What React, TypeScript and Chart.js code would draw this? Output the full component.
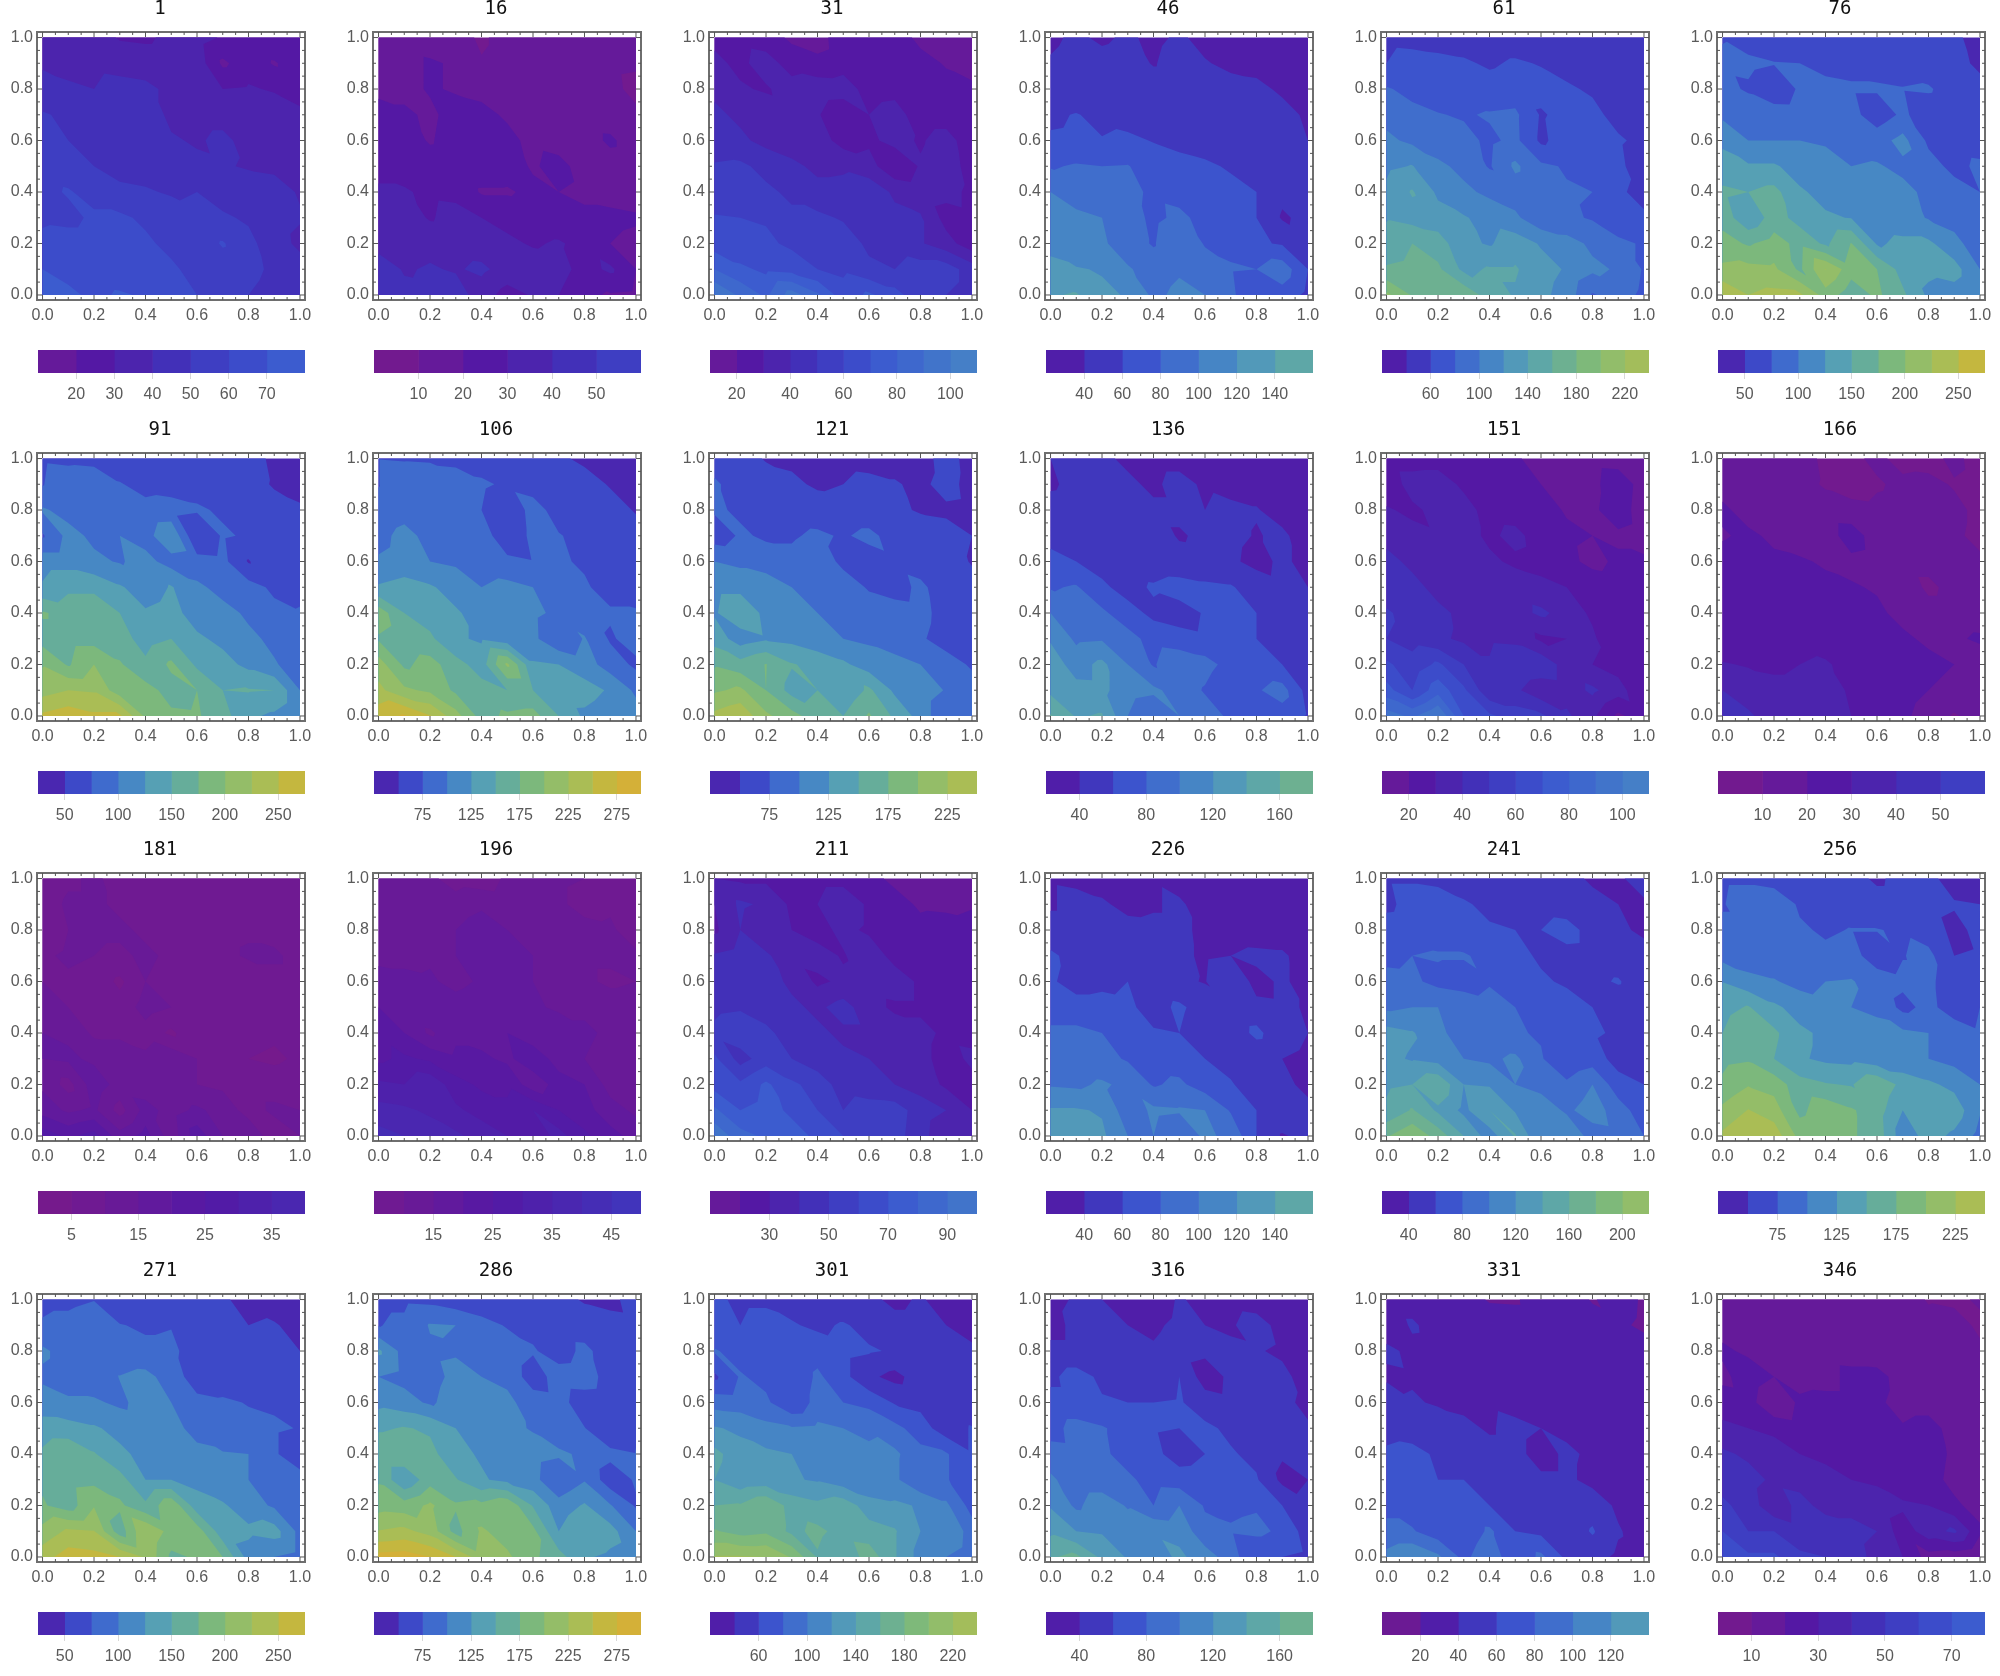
import React, { useEffect, useRef } from "react";
import { Chart, registerables } from "chart.js";

Chart.register(...registerables);

const panelTitles = [1, 16, 31, 46, 61, 76, 91, 106, 121, 136, 151, 166, 181, 196, 211, 226, 241, 256, 271, 286, 301, 316, 331, 346];
const rangeLow = [10, 0, 10, 20, 20, 25, 25, 25, 25, 20, 10, 0, 0, 5, 10, 20, 20, 25, 25, 25, 20, 20, 0, 0];
const rangeHigh = [80, 60, 110, 160, 240, 275, 275, 300, 250, 180, 110, 60, 40, 50, 100, 160, 220, 250, 275, 300, 240, 180, 140, 80];
const rangeStep = [10, 10, 10, 20, 20, 25, 25, 25, 25, 20, 10, 10, 5, 5, 10, 20, 20, 25, 25, 25, 20, 20, 20, 10];
const barTicks = [
  [20, 30, 40, 50, 60, 70], [10, 20, 30, 40, 50], [20, 40, 60, 80, 100], [40, 60, 80, 100, 120, 140], [60, 100, 140, 180, 220], [50, 100, 150, 200, 250],
  [50, 100, 150, 200, 250], [75, 125, 175, 225, 275], [75, 125, 175, 225], [40, 80, 120, 160], [20, 40, 60, 80, 100], [10, 20, 30, 40, 50],
  [5, 15, 25, 35], [15, 25, 35, 45], [30, 50, 70, 90], [40, 60, 80, 100, 120, 140], [40, 80, 120, 160, 200], [75, 125, 175, 225],
  [50, 100, 150, 200, 250], [75, 125, 175, 225, 275], [60, 100, 140, 180, 220], [40, 80, 120, 160], [20, 40, 60, 80, 100, 120], [10, 30, 50, 70],
];

// Each grid: 11 rows from y = 1.0 down to y = 0.0, 11 values from x = 0.0 to x = 1.0
const grid1 = [
  38,36,35,29,28,33,34,29,27,28,27,
  39,38,38,37,36,36,36,18,26,19,26,
  43,41,40,43,42,38,34,30,31,29,26,
  51,48,47,46,45,38,37,37,33,36,32,
  53,50,47,46,45,41,39,42,37,36,34,
  56,54,50,47,46,45,42,41,39,38,35,
  57,61,56,52,51,49,50,47,46,44,39,
  58,57,62,62,58,55,52,51,49,45,41,
  63,65,65,66,62,57,54,61,52,46,37,
  70,67,66,65,64,62,56,55,53,48,46,
  75,72,68,71,69,65,60,56,50,46,44,
];
const grid16 = [
  18,17,16,15,8,15,15,15,15,15,15,
  17,17,21,19,11,15,12,14,14,13,12,
  17,17,21,19,18,15,14,14,15,14,6,
  25,22,18,24,22,19,16,15,15,14,13,
  26,25,19,25,24,22,18,16,15,22,14,
  28,26,25,26,25,24,19,23,16,15,14,
  31,31,28,27,19,19,22,20,18,17,16,
  34,35,29,34,30,27,25,24,22,22,21,
  36,35,37,36,35,32,29,31,27,20,18,
  46,39,41,39,42,36,35,34,26,32,20,
  50,43,42,45,35,26,31,30,22,19,18,
];
const grid31 = [
  28,27,25,18,15,27,26,26,17,14,13,
  32,28,34,26,23,26,26,25,24,19,16,
  38,31,29,34,36,35,26,27,24,24,22,
  42,38,35,33,31,22,30,34,25,25,24,
  44,42,37,33,35,26,28,33,29,34,24,
  51,52,47,43,37,38,34,22,31,35,26,
  53,52,52,48,44,44,47,38,35,33,28,
  61,60,59,52,52,49,43,43,41,26,28,
  65,63,62,58,58,55,48,45,41,34,24,
  80,72,68,66,60,58,52,50,55,55,45,
  100,88,78,95,82,64,72,64,53,50,45,
];
const grid46 = [
  38,42,38,42,37,42,36,34,33,33,32,
  41,44,44,46,39,46,41,37,36,37,33,
  45,47,46,48,47,47,48,45,43,38,34,
  57,61,55,52,50,49,48,47,46,44,38,
  62,63,61,64,59,55,52,50,47,45,40,
  78,82,80,81,70,66,63,58,50,45,43,
  100,92,90,86,76,72,68,65,60,44,42,
  112,104,100,90,75,85,73,65,60,38,44,
  115,102,103,90,78,100,78,75,63,58,45,
  125,122,118,102,92,98,92,82,80,92,60,
  138,142,125,118,96,104,100,85,60,72,55,
];
const grid61 = [
  56,55,54,53,52,52,52,50,48,40,42,
  60,66,64,62,58,62,59,55,52,48,46,
  82,74,70,68,66,68,66,62,58,54,50,
  94,86,81,78,82,84,58,66,64,55,48,
  104,96,90,86,76,85,56,70,60,62,56,
  116,121,104,95,78,104,84,78,70,64,50,
  124,142,116,104,96,90,84,82,80,62,56,
  138,132,128,122,112,104,85,84,78,68,62,
  150,160,150,125,118,131,118,108,96,84,78,
  162,165,164,135,142,142,128,118,104,98,78,
  205,178,168,176,150,138,125,112,78,90,75,
];
const grid76 = [
  74,65,60,62,60,60,58,50,58,55,40,
  78,80,76,75,70,68,66,65,60,58,45,
  82,72,60,78,80,78,78,76,78,62,58,
  95,90,86,85,85,84,60,80,60,57,55,
  120,100,100,100,97,92,90,108,70,65,62,
  135,128,128,115,110,100,102,95,85,68,80,
  155,150,158,128,118,115,112,106,95,85,75,
  165,130,162,140,128,124,115,112,98,90,82,
  185,172,185,168,145,176,122,130,130,108,85,
  205,208,205,170,226,185,175,140,130,135,100,
  248,225,232,230,190,160,180,155,120,115,100,
];
const grid91 = [
  72,70,68,66,62,62,50,60,60,45,40,
  74,88,90,76,70,68,66,62,58,48,45,
  103,92,88,85,80,82,78,72,64,58,52,
  72,108,95,100,90,122,50,78,72,58,55,
  115,115,105,98,108,90,85,82,48,74,60,
  128,145,145,128,112,127,105,92,85,70,72,
  178,165,165,150,128,135,112,108,96,82,76,
  165,165,165,160,140,150,130,118,105,95,82,
  198,172,200,178,155,180,145,135,118,102,90,
  215,225,222,185,185,165,175,150,152,150,100,
  255,265,255,255,195,180,178,160,130,120,100,
];
const grid106 = [
  74,72,70,68,66,62,58,54,45,42,38,
  74,98,100,88,78,72,68,64,60,48,45,
  82,90,95,90,75,60,82,68,70,60,48,
  92,108,92,88,86,60,80,76,70,62,60,
  103,110,100,96,85,80,76,78,72,66,60,
  128,135,128,115,100,108,100,85,78,66,62,
  190,150,138,128,115,110,105,95,85,78,78,
  172,160,155,128,122,108,106,78,102,72,85,
  212,170,185,160,138,205,128,125,112,88,70,
  232,205,195,170,160,150,150,136,135,122,95,
  265,278,252,210,165,180,185,150,120,110,112,
];
const grid121 = [
  72,60,48,46,44,44,42,42,40,60,40,
  76,72,62,54,47,50,56,52,45,58,42,
  78,72,68,62,60,58,58,54,48,46,44,
  62,78,72,72,80,72,82,64,62,58,50,
  100,94,85,82,92,68,62,70,64,62,48,
  118,118,118,100,95,90,72,66,80,62,60,
  122,145,118,110,100,96,90,85,82,66,60,
  140,112,122,118,108,100,96,88,78,65,66,
  172,160,176,152,142,130,112,108,100,85,72,
  196,205,175,140,150,130,155,120,115,98,85,
  232,245,205,185,160,150,178,145,115,78,90,
];
const grid136 = [
  40,44,42,38,36,36,34,34,32,32,30,
  37,46,46,42,38,44,38,34,34,32,30,
  48,50,48,47,42,42,40,44,41,34,31,
  58,52,48,46,45,39,42,44,39,43,32,
  62,60,52,48,46,44,43,43,35,43,35,
  78,82,64,52,63,70,65,62,50,44,40,
  100,90,84,68,55,50,62,66,60,48,42,
  118,96,98,88,72,68,64,62,60,44,42,
  130,112,125,100,78,96,88,72,66,60,48,
  135,126,125,108,104,92,78,60,78,88,52,
  162,138,142,100,82,100,90,76,62,72,58,
];
const grid151 = [
  26,26,26,26,25,21,17,16,16,15,14,
  24,34,35,28,26,24,20,18,17,27,15,
  31,28,33,34,26,25,24,19,18,26,14,
  36,33,31,34,28,33,25,22,20,18,15,
  44,37,34,34,32,28,26,23,17,22,22,
  41,44,36,38,39,36,33,30,27,25,23,
  52,44,43,37,37,36,42,36,28,25,21,
  50,46,42,38,38,37,28,30,32,20,22,
  62,54,62,50,41,50,48,35,30,26,20,
  74,60,76,62,42,42,33,35,42,34,22,
  95,88,100,70,62,55,52,42,32,18,25,
];
const grid166 = [
  16,15,15,14,8,8,12,7,6,13,5,
  16,15,15,13,9,6,9,12,13,9,6,
  22,16,15,14,14,13,12,13,13,13,7,
  19,22,18,16,14,26,14,13,13,12,7,
  24,26,22,21,19,17,15,13,13,13,12,
  27,26,25,24,22,21,19,16,8,13,12,
  30,29,26,24,22,24,22,17,14,14,13,
  22,26,30,28,26,25,24,22,18,18,22,
  31,29,28,30,31,27,25,23,23,20,12,
  40,37,33,33,36,28,25,24,20,17,13,
  46,41,37,33,32,30,26,22,16,9,14,
];
const grid181 = [
  6,9,11,8,6,7,8,7,6,6,6,
  7,11,11,9,8,8,7,7,7,7,7,
  6,10,11,11,9,8,8,8,9,8,7,
  9,11,10,9,11,9,6,8,11,11,8,
  10,9,8,4,10,8,5,5,5,8,8,
  11,10,8,7,12,10,7,5,6,7,5,
  15,14,9,9,8,4,9,6,7,6,5,
  15,16,14,13,11,14,10,8,5,4,6,
  14,8,18,13,12,11,10,9,8,8,9,
  18,14,16,8,17,13,16,13,8,11,10,
  28,24,27,17,22,12,23,15,14,7,10,
];
const grid196 = [
  12,11,11,8,7,11,11,11,10,7,6,
  12,12,12,12,14,13,12,11,8,9,8,
  14,12,13,15,18,15,14,13,12,11,7,
  13,13,14,15,16,15,15,12,11,11,11,
  18,17,16,13,16,16,15,13,11,9,10,
  20,19,20,18,20,17,16,14,14,13,13,
  24,20,14,19,18,20,17,19,16,14,13,
  24,26,24,21,21,19,23,18,15,13,13,
  31,30,34,27,24,24,17,22,20,13,14,
  37,36,34,31,28,26,30,25,22,17,14,
  42,40,38,36,33,30,26,32,26,22,18,
];
const grid211 = [
  30,28,28,22,26,26,24,17,16,16,16,
  30,42,38,28,30,38,28,25,18,17,19,
  28,40,30,30,26,33,28,28,24,26,24,
  41,44,42,32,34,29,37,26,24,26,25,
  50,46,44,38,28,32,34,36,28,27,26,
  48,49,46,42,38,44,34,28,28,28,27,
  52,56,52,46,42,38,38,36,33,28,27,
  62,46,55,50,44,42,40,38,33,26,32,
  66,62,72,62,56,45,42,40,36,28,27,
  82,70,74,68,60,50,56,55,45,40,30,
  98,84,78,74,68,60,55,54,44,32,36,
];
const grid226 = [
  38,36,34,32,38,30,26,26,26,26,25,
  38,46,42,36,38,44,28,26,26,26,26,
  46,46,46,45,44,44,36,28,26,26,26,
  64,52,47,46,46,44,37,40,46,44,28,
  62,54,56,60,48,43,39,60,32,44,30,
  66,66,66,64,52,64,50,44,46,44,38,
  86,86,80,70,62,60,45,45,66,44,40,
  92,88,86,78,72,70,60,52,42,40,38,
  98,96,103,95,78,84,70,62,48,42,38,
  122,122,118,88,104,102,100,78,60,56,42,
  140,130,124,100,100,85,104,95,60,38,46,
];
const grid241 = [
  58,58,56,52,50,46,46,44,38,38,46,
  55,68,68,62,56,52,50,46,44,40,38,
  70,72,70,66,62,60,60,70,50,42,38,
  76,80,82,82,74,64,58,52,50,48,44,
  85,84,74,70,78,74,62,58,55,62,46,
  96,100,100,95,88,80,74,66,60,46,44,
  128,122,104,92,84,82,78,70,62,58,40,
  125,118,112,100,96,104,82,62,70,52,50,
  136,140,158,120,118,100,92,84,100,68,60,
  144,162,136,115,140,118,114,96,110,90,68,
  178,196,172,140,110,142,100,120,90,94,80,
];
const grid256 = [
  70,70,66,62,60,58,46,58,56,40,38,
  73,90,90,72,66,64,60,60,56,52,50,
  80,80,82,78,72,76,76,72,62,44,56,
  92,86,85,82,80,84,62,74,82,50,52,
  124,108,102,92,100,102,88,80,80,62,72,
  142,152,130,115,108,100,95,68,82,62,75,
  150,168,155,130,120,115,108,105,100,90,78,
  168,172,150,128,120,118,108,105,100,92,88,
  180,198,190,160,152,148,172,142,130,118,100,
  206,226,212,168,192,178,162,125,150,140,102,
  230,250,240,192,200,178,165,110,135,120,92,
];
const grid271 = [
  68,68,74,60,60,58,55,52,45,38,38,
  78,84,92,76,72,74,60,54,50,52,42,
  105,88,84,82,80,80,64,56,50,52,50,
  95,88,84,101,108,88,62,64,62,62,58,
  112,104,104,95,110,100,82,78,74,72,56,
  136,135,128,118,112,105,95,82,80,78,74,
  155,172,152,130,118,112,104,102,100,78,60,
  170,165,168,160,125,125,118,108,100,90,85,
  178,162,198,180,155,195,135,128,112,96,82,
  208,230,226,160,224,190,188,135,130,136,92,
  240,262,258,250,222,170,178,175,115,100,92,
];
const grid286 = [
  70,70,68,60,50,62,60,56,48,44,60,
  74,80,102,100,88,72,66,62,60,58,56,
  130,90,96,98,100,94,78,62,82,60,58,
  100,92,92,106,100,95,60,88,90,62,58,
  118,110,96,112,118,105,90,85,60,58,56,
  146,152,146,125,112,106,98,85,76,52,72,
  172,172,158,132,122,114,110,104,96,82,76,
  172,128,165,152,128,118,108,78,98,60,78,
  190,186,205,178,182,195,148,110,128,102,72,
  226,232,215,165,204,188,182,125,150,135,100,
  285,288,275,250,210,205,180,160,128,120,112,
];
const grid301 = [
  62,58,58,52,46,46,44,36,42,32,30,
  62,60,64,62,56,62,54,46,46,40,36,
  82,72,66,62,72,66,62,58,50,46,42,
  56,82,74,62,84,66,44,34,50,60,42,
  92,90,84,62,88,80,74,58,54,46,40,
  122,116,106,102,104,100,98,86,70,48,62,
  146,128,124,120,112,104,102,104,86,82,62,
  140,126,128,122,118,108,100,104,82,82,64,
  160,162,178,152,145,152,130,124,118,104,72,
  182,172,176,155,165,152,148,142,120,120,90,
  222,222,220,198,158,140,172,142,112,100,88,
];
const grid316 = [
  35,42,40,38,30,42,34,30,26,28,25,
  32,46,44,40,37,44,40,37,52,30,26,
  46,46,46,44,42,48,44,44,42,36,28,
  56,68,56,50,45,60,30,44,44,46,30,
  66,66,62,60,60,62,50,45,46,44,36,
  72,88,82,72,62,60,64,56,44,44,42,
  88,86,84,72,66,50,60,62,55,42,42,
  104,88,88,84,72,70,72,70,62,35,40,
  118,96,112,98,80,100,78,76,78,60,44,
  136,120,118,112,118,114,86,82,85,76,50,
  158,165,135,118,110,124,110,90,60,60,56,
];
const grid331 = [
  34,34,34,30,18,17,34,33,18,30,17,
  30,42,34,34,33,32,32,32,30,24,16,
  44,36,35,34,34,33,32,32,32,31,30,
  36,38,36,35,35,34,34,33,33,32,31,
  55,42,38,36,37,32,34,32,32,32,31,
  52,48,50,44,38,46,40,35,33,32,30,
  64,68,56,52,46,46,32,44,36,32,30,
  62,60,60,60,52,48,44,44,34,33,30,
  78,70,64,62,60,52,46,44,52,36,30,
  82,82,68,64,84,60,55,48,62,42,30,
  108,120,104,74,96,62,85,55,48,36,32,
];
const grid346 = [
  14,12,16,16,16,16,16,16,9,7,12,
  16,14,16,16,14,14,12,13,14,16,7,
  22,18,17,16,15,14,13,13,13,13,13,
  17,26,20,16,15,24,24,15,14,14,13,
  26,24,11,22,24,24,22,16,16,15,14,
  32,30,27,24,26,25,24,21,24,16,15,
  42,38,36,30,28,27,26,25,25,18,16,
  46,44,38,36,33,30,28,22,24,17,17,
  52,46,32,44,36,36,36,32,30,22,16,
  60,50,50,44,47,44,40,24,36,42,22,
  68,62,62,52,50,46,36,30,16,14,10,
];
const panelGrids = [
  grid1, grid16, grid31, grid46, grid61, grid76, grid91, grid106, grid121, grid136, grid151, grid166,
  grid181, grid196, grid211, grid226, grid241, grid256, grid271, grid286, grid301, grid316, grid331, grid346,
];

const colorStopValues = [2.5, 15, 25, 35, 45, 55, 65, 75, 87.5, 112.5, 137.5, 162.5, 187.5, 212.5, 237.5, 262.5, 287.5];
const colorStopHex = ["#751a8c", "#651a9a", "#5418a4", "#4c24ad", "#4230b8", "#3e3ec2", "#3c4cca", "#3c5ccf", "#3f6bcd", "#4788c4", "#56a0b4", "#66ad9a", "#7cb87c", "#94bd68", "#aabd55", "#c4b73f", "#d4b038"];

const hexToRgb = (h: string) => [1, 3, 5].map((i) => parseInt(h.slice(i, i + 2), 16));
function bandColor(v: number): string {
  const xs = colorStopValues;
  if (v <= xs[0]) return colorStopHex[0];
  for (let i = 1; i < xs.length; i++) {
    if (v <= xs[i]) {
      const t = (v - xs[i - 1]) / (xs[i] - xs[i - 1]);
      const a = hexToRgb(colorStopHex[i - 1]);
      const b = hexToRgb(colorStopHex[i]);
      const c = a.map((p, k) => Math.round(p + (b[k] - p) * t));
      return `rgb(${c[0]},${c[1]},${c[2]})`;
    }
  }
  return colorStopHex[colorStopHex.length - 1];
}

type P = { x: number; y: number; v: number };

function clipTriangle(tri: P[], level: number): P[] {
  const out: P[] = [];
  for (let i = 0; i < tri.length; i++) {
    const a = tri[i];
    const b = tri[(i + 1) % tri.length];
    if (a.v >= level) out.push(a);
    if (a.v >= level !== b.v >= level) {
      const t = (level - a.v) / (b.v - a.v);
      out.push({ x: a.x + (b.x - a.x) * t, y: a.y + (b.y - a.y) * t, v: level });
    }
  }
  return out;
}

const contourPlugin = {
  id: "contourBands",
  beforeDatasetsDraw(chart: any) {
    const pts: P[] = chart.data.datasets[0].data;
    const { low, high, step } = chart.options.plugins.contourBands;
    const sx = chart.scales.x;
    const sy = chart.scales.y;
    const ctx = chart.ctx;
    const at = (r: number, c: number) => pts[r * 11 + c];
    ctx.save();
    for (let lv = low; lv < high; lv += step) {
      ctx.beginPath();
      for (let r = 0; r < 10; r++) {
        for (let c = 0; c < 10; c++) {
          const A = at(r, c), B = at(r, c + 1), C = at(r + 1, c + 1), D = at(r + 1, c);
          for (const tri of [[A, B, C], [A, C, D]]) {
            const poly = lv === low ? tri : clipTriangle(tri, lv);
            if (poly.length < 3) continue;
            poly.forEach((p, i) => {
              const px = sx.getPixelForValue(p.x);
              const py = sy.getPixelForValue(p.y);
              if (i === 0) ctx.moveTo(px, py);
              else ctx.lineTo(px, py);
            });
            ctx.closePath();
          }
        }
      }
      ctx.fillStyle = bandColor(lv + step / 2);
      ctx.fill("nonzero");
    }
    ctx.restore();
  },
};

const framePlugin = {
  id: "plotFrame",
  afterDraw(chart: any) {
    const { left, right, top, bottom } = chart.chartArea;
    const sx = chart.scales.x;
    const sy = chart.scales.y;
    const ctx = chart.ctx;
    ctx.save();
    ctx.strokeStyle = "#6e6e6e";
    ctx.lineWidth = 2;
    ctx.strokeRect(left, top, right - left, bottom - top);
    ctx.lineWidth = 1;
    ctx.strokeStyle = "#555555";
    ctx.beginPath();
    for (let i = 0; i <= 20; i++) {
      const len = i % 4 === 0 ? 5 : 3;
      const px = sx.getPixelForValue(i * 0.05);
      const py = sy.getPixelForValue(i * 0.05);
      ctx.moveTo(px, bottom); ctx.lineTo(px, bottom - len);
      ctx.moveTo(px, top); ctx.lineTo(px, top + len);
      ctx.moveTo(left, py); ctx.lineTo(left + len, py);
      ctx.moveTo(right, py); ctx.lineTo(right - len, py);
    }
    ctx.stroke();
    ctx.restore();
  },
};

const AXIS_TICKS = [0, 0.2, 0.4, 0.6, 0.8, 1];
const TICK_FONT = { family: "'Liberation Sans', Arial, sans-serif", size: 16 };
const TICK_COLOR = "#5a5a5a";

function Panel({ index }: { index: number }) {
  const plotRef = useRef<HTMLCanvasElement>(null);
  const barRef = useRef<HTMLCanvasElement>(null);
  useEffect(() => {
    const grid = panelGrids[index];
    const low = rangeLow[index];
    const high = rangeHigh[index];
    const step = rangeStep[index];
    const points = grid.map((v, i) => ({ x: (i % 11) / 10, y: 1 - Math.floor(i / 11) / 10, v }));
    const plot = new Chart(plotRef.current!, {
      type: "scatter",
      data: { datasets: [{ data: points, pointRadius: 0, pointHoverRadius: 0 }] },
      plugins: [contourPlugin, framePlugin],
      options: {
        responsive: false,
        animation: false,
        events: [],
        layout: { padding: { left: 0, right: 0, top: 0, bottom: 0 }, autoPadding: false },
        plugins: {
          legend: { display: false },
          tooltip: { enabled: false },
          title: {
            display: true,
            text: String(panelTitles[index]),
            color: "#111111",
            font: { family: "'DejaVu Sans Mono', monospace", size: 19, weight: "normal", lineHeight: 1 },
            padding: { top: 0, bottom: 13 },
          },
          contourBands: { low, high, step },
        } as any,
        scales: {
          x: {
            type: "linear",
            min: -0.0215,
            max: 1.0195,
            afterBuildTicks: (s: any) => { s.ticks = AXIS_TICKS.map((value) => ({ value })); },
            afterFit: (s: any) => { s.height = 30; },
            grid: { display: false, drawTicks: false },
            border: { display: false },
            ticks: { callback: (v: any) => Number(v).toFixed(1), font: TICK_FONT, color: TICK_COLOR, padding: 6, maxRotation: 0, autoSkip: false },
          },
          y: {
            type: "linear",
            min: -0.0195,
            max: 1.0215,
            afterBuildTicks: (s: any) => { s.ticks = AXIS_TICKS.map((value) => ({ value })); },
            afterFit: (s: any) => { s.width = 37; },
            grid: { display: false, drawTicks: false },
            border: { display: false },
            ticks: { callback: (v: any) => Number(v).toFixed(1), font: TICK_FONT, color: TICK_COLOR, padding: 4, autoSkip: false },
          },
          yRight: {
            type: "linear",
            position: "right",
            min: 0,
            max: 1,
            afterFit: (s: any) => { s.width = 15; },
            grid: { display: false, drawTicks: false },
            border: { display: false },
            ticks: { display: false },
          },
        },
      } as any,
    });
    const bands: number[] = [];
    for (let lv = low; lv < high; lv += step) bands.push(lv);
    const bar = new Chart(barRef.current!, {
      type: "bar",
      data: {
        labels: ["legend"],
        datasets: bands.map((lv) => ({
          data: [[lv, lv + step]],
          backgroundColor: bandColor(lv + step / 2),
          borderWidth: 0,
          grouped: false,
          barPercentage: 1,
          categoryPercentage: 1,
        })),
      } as any,
      options: {
        indexAxis: "y",
        responsive: false,
        animation: false,
        events: [],
        layout: { padding: { left: 38, right: 31, top: 0, bottom: 0 }, autoPadding: false },
        plugins: { legend: { display: false }, tooltip: { enabled: false } },
        scales: {
          x: {
            type: "linear",
            min: low,
            max: high,
            afterBuildTicks: (s: any) => { s.ticks = barTicks[index].map((value) => ({ value })); },
            afterFit: (s: any) => { s.height = 47; },
            grid: { drawOnChartArea: false, drawTicks: true, tickLength: 6, color: "#d8d8d8" },
            border: { display: false },
            ticks: { font: TICK_FONT, color: TICK_COLOR, padding: 6, maxRotation: 0, autoSkip: false },
          },
          y: { display: false },
        },
      } as any,
    });
    return () => {
      plot.destroy();
      bar.destroy();
    };
  }, [index]);
  const col = index % 6;
  const row = Math.floor(index / 6);
  const left = Math.round(col * 335.9);
  const top = Math.round(row * 420.7);
  return (
    <>
      <canvas ref={plotRef} width={320} height={330} style={{ position: "absolute", left, top, width: 320, height: 330 }} />
      <canvas ref={barRef} width={336} height={70} style={{ position: "absolute", left, top: top + 350, width: 336, height: 70 }} />
    </>
  );
}

export default function App() {
  return (
    <div style={{ position: "absolute", left: 0, top: 0, width: 2000, height: 1676, background: "#ffffff", overflow: "hidden" }}>
      {panelTitles.map((_, i) => (
        <Panel key={i} index={i} />
      ))}
    </div>
  );
}
